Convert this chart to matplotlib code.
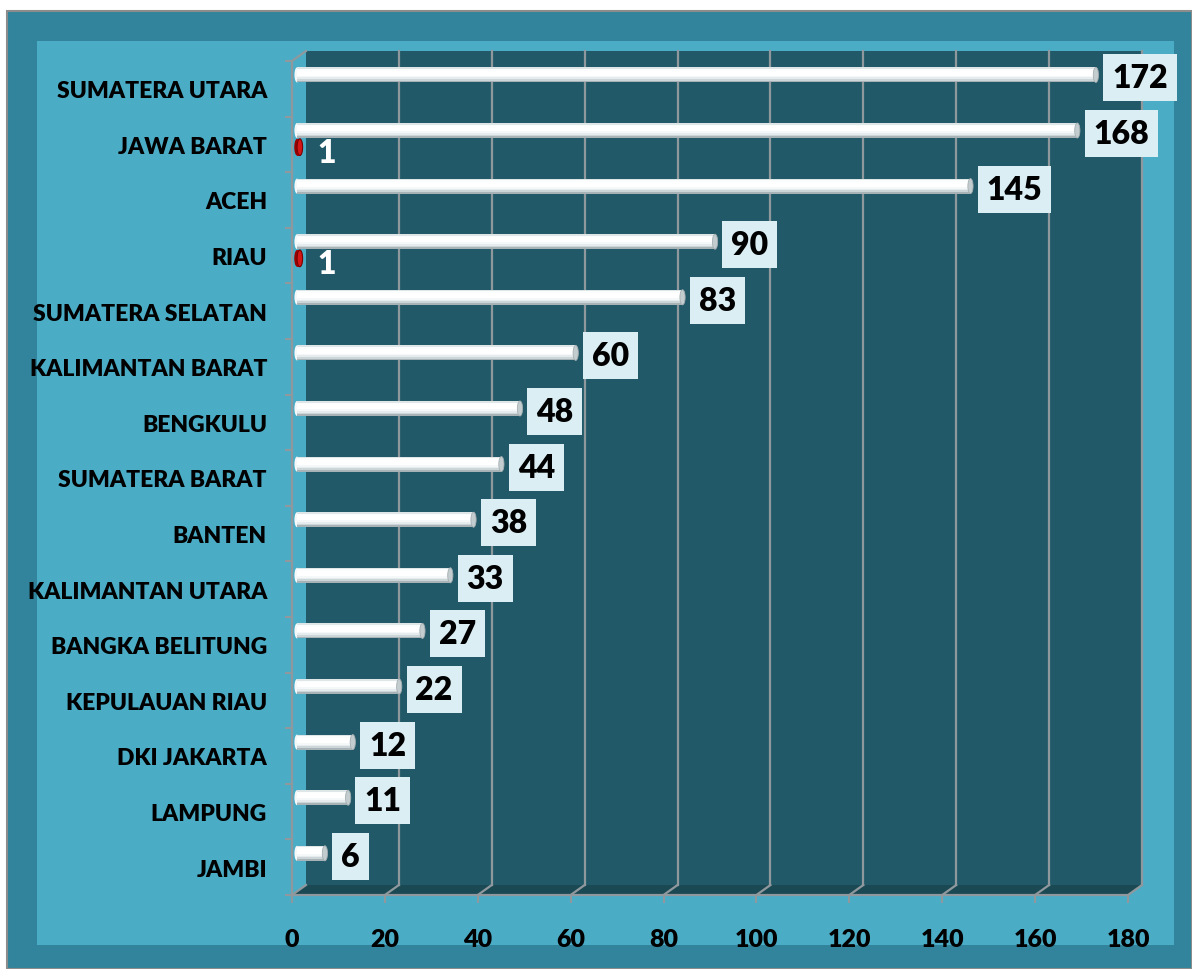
import numpy as np
import matplotlib.pyplot as plt
from matplotlib.patches import Rectangle, Polygon, Ellipse

# ----- Data -----
provinces = ['SUMATERA UTARA', 'JAWA BARAT', 'ACEH', 'RIAU', 'SUMATERA SELATAN',
             'KALIMANTAN BARAT', 'BENGKULU', 'SUMATERA BARAT', 'BANTEN',
             'KALIMANTAN UTARA', 'BANGKA BELITUNG', 'KEPULAUAN RIAU',
             'DKI JAKARTA', 'LAMPUNG', 'JAMBI']
main_values = [172, 168, 145, 90, 83, 60, 48, 44, 38, 33, 27, 22, 12, 11, 6]
red_values = [0, 1, 0, 1, 0, 0, 0, 0, 0, 0, 0, 0, 0, 0, 0]
x_ticks = [0, 20, 40, 60, 80, 100, 120, 140, 160, 180]

W, H = 1192, 970
FONT = 'Lato'
WEIGHT = 'heavy'

OUTER = '#31849b'
PANEL = '#4bacc6'
WALL = '#215968'
FLOOR = '#1a4853'
GRID = '#8f999d'
LABEL_BOX = '#dbeef4'

fig = plt.figure(figsize=(W / 100, H / 100), dpi=100, facecolor='white')

# background frames (pixel boxes -> figure fraction)
fig.patches.append(Rectangle((7 / W, 0), (W - 7) / W, (H - 12) / H,
                             transform=fig.transFigure, facecolor=OUTER,
                             edgecolor='#8c8c8c', lw=1.5, zorder=-10))
fig.patches.append(Rectangle((37 / W, 1 - 946 / H), (1174 - 37) / W, (946 - 42) / H,
                             transform=fig.transFigure, facecolor=PANEL,
                             edgecolor='none', zorder=-9))

# front plane of the 3D plot
left_px, right_px, top_px, bot_px = 292, 1128, 62, 896
ax = fig.add_axes([left_px / W, 1 - bot_px / H, (right_px - left_px) / W, (bot_px - top_px) / H])
ax.patch.set_visible(False)
for s in ax.spines.values():
    s.set_visible(False)

n = len(provinces)
xmax = x_ticks[-1]
ax.set_xlim(0, xmax)
ax.set_ylim(n - 0.5, -0.5)

# 3D depth offset in data units
dx = xmax * 14 / (right_px - left_px)
dy = n * 10 / (bot_px - top_px)

# back wall, floor
ax.add_patch(Rectangle((dx, -0.5 - dy), xmax, n, facecolor=WALL, edgecolor='none',
                       zorder=0, clip_on=False))
ax.add_patch(Polygon([(0, n - 0.5), (xmax, n - 0.5), (xmax + dx, n - 0.5 - dy), (dx, n - 0.5 - dy)],
                     closed=True, facecolor=FLOOR, edgecolor='none', zorder=0.5, clip_on=False))

# gridlines on wall and floor
for t in x_ticks:
    if t > 0:
        ax.plot([t + dx, t + dx], [-0.5 - dy, n - 0.5 - dy], color=GRID, lw=1.6,
                zorder=1, clip_on=False)
    ax.plot([t, t + dx], [n - 0.5, n - 0.5 - dy], color=GRID, lw=1.6, zorder=1, clip_on=False)

# axis lines
ax.plot([0, xmax], [n - 0.5, n - 0.5], color=GRID, lw=1.6, zorder=1, clip_on=False)
ax.plot([0, 0, dx], [n - 0.5, -0.5, -0.5 - dy], color=GRID, lw=1.6, zorder=1, clip_on=False)

# ----- Bars (cylinder look built from stacked slices) -----
y = np.arange(n)
shift = dx * 0.36
bar_h = 0.27
white_y = y - 0.25
red_y = y + 0.05
cap_r = 0.7

shade = ['#dfe6e8', '#fbfdfd', '#ffffff', '#ffffff', '#ffffff',
         '#f5f8f9', '#e6ecee', '#ccd5d8', '#a8b3b7']
k = len(shade)
for j, c in enumerate(shade):
    yy = white_y - bar_h / 2 + (j + 0.5) * bar_h / k
    ax.barh(yy, main_values, height=bar_h / k + 0.002, left=shift, color=c,
            edgecolor='none', zorder=3)

for yi, v in zip(white_y, main_values):
    ax.add_patch(Ellipse((shift, yi), cap_r * 1.6, bar_h, facecolor='#f4f8f9',
                         edgecolor='none', zorder=2.9))
    ax.add_patch(Ellipse((shift + v, yi), cap_r * 1.6, bar_h, facecolor='#c3ccce',
                         edgecolor='#a4aeb2', lw=0.6, zorder=3.2))
    ax.annotate(str(v), xy=(shift + v + cap_r, yi), xytext=(13, -3),
                textcoords='offset pixels', ha='left', va='center',
                fontsize=23, fontweight=WEIGHT, family=FONT, color='black', zorder=5,
                bbox=dict(boxstyle='square,pad=0.28', facecolor=LABEL_BOX, edgecolor='none'))

red_h = 0.3
for yi, v in zip(red_y, red_values):
    if v <= 0:
        continue
    ax.barh(yi, v * 0.6, height=red_h, left=shift, color='#b00000', edgecolor='none', zorder=3)
    ax.add_patch(Ellipse((shift, yi), 1.2, red_h, facecolor='#9a0000', edgecolor='none', zorder=2.9))
    ax.add_patch(Ellipse((shift + v * 0.6, yi), 1.2, red_h, facecolor='#d41515',
                         edgecolor='#7a0000', lw=0.8, zorder=3.2))
    ax.annotate(str(v), xy=(shift + v + 0.5, yi), xytext=(13, -5),
                textcoords='offset pixels', ha='left', va='center',
                fontsize=23, fontweight=WEIGHT, family=FONT, color='white', zorder=5)

# ----- Ticks -----
ax.set_xticks(x_ticks)
ax.set_xticklabels([str(t) for t in x_ticks], fontsize=18, fontweight=WEIGHT, family=FONT)
ax.tick_params(axis='x', direction='out', length=6, width=1.5, color=GRID, pad=18)

ax.set_yticks(y)
ax.set_yticklabels(provinces, fontsize=16.5, fontweight=WEIGHT, family=FONT)
ax.tick_params(axis='y', which='major', length=0, pad=18)
ax.set_yticks(np.arange(-0.5, n, 1.0), minor=True)
ax.tick_params(axis='y', which='minor', direction='out', length=5, width=1.5, color=GRID)

fig.savefig('out.png', dpi=100)
